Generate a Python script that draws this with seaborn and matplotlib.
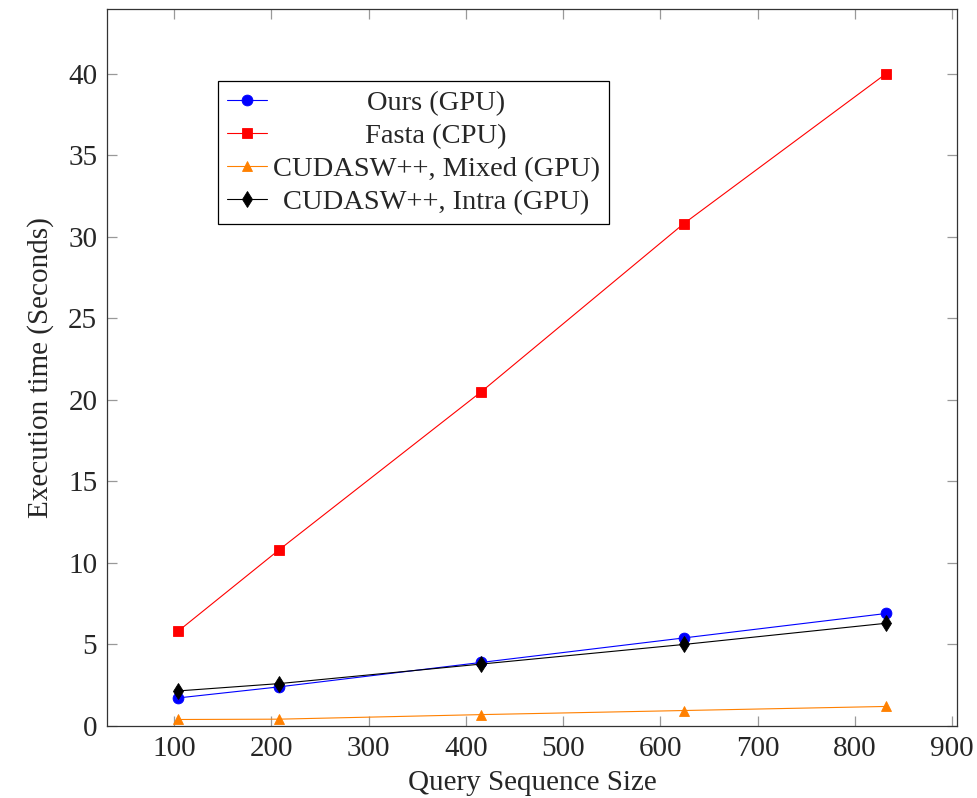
"""Execution time vs query sequence size (pgfplots-style line chart)."""
import matplotlib
matplotlib.use("Agg")
import matplotlib.pyplot as plt
import numpy as np
import pandas as pd
import seaborn as sns

# ---- data -------------------------------------------------------------
query_sizes = [104, 208, 416, 624, 832]
ours_gpu = [1.72, 2.40, 3.90, 5.40, 6.90]
fasta_cpu = [5.80, 10.80, 20.50, 30.80, 40.00]
cudasw_mixed = [0.40, 0.42, 0.70, 0.95, 1.20]
cudasw_intra = [2.15, 2.60, 3.80, 5.00, 6.30]

series_names = [
    "Ours (GPU)",
    "Fasta (CPU)",
    "CUDASW++, Mixed (GPU)",
    "CUDASW++, Intra (GPU)",
]
series_values = [ours_gpu, fasta_cpu, cudasw_mixed, cudasw_intra]

x_ticks = [100, 200, 300, 400, 500, 600, 700, 800, 900]
y_ticks = [0, 5, 10, 15, 20, 25, 30, 35, 40]

# ---- styling ------------------------------------------------------------
STYLE = {
    "Ours (GPU)":            dict(color="#0000ff", marker="o", ms=7.8),
    "Fasta (CPU)":           dict(color="#ff0000", marker="s", ms=7.6),
    "CUDASW++, Mixed (GPU)": dict(color="#ff8000", marker="^", ms=7.6),
    "CUDASW++, Intra (GPU)": dict(color="#000000", marker="d", ms=7.8),
}

sns.set_style("ticks")
plt.rcParams["font.family"] = ["Liberation Serif", "DejaVu Serif"]

df = pd.concat(
    [pd.DataFrame({"size": query_sizes, "time": vals, "series": name})
     for name, vals in zip(series_names, series_values)],
    ignore_index=True,
)

fig = plt.figure(figsize=(9.78, 7.98), dpi=100)
ax = fig.add_axes([0.1094, 0.0902, 0.8691, 0.8985])

for name in series_names:
    st = STYLE[name]
    sub = df[df["series"] == name]
    sns.lineplot(
        data=sub, x="size", y="time", ax=ax,
        color=st["color"], marker=st["marker"], markersize=st["ms"],
        markeredgecolor=st["color"], markeredgewidth=0.6,
        linewidth=0.8, label=name, legend=False,
    )

ax.set_xlim(31.2, 904.8)
ax.set_ylim(0, 43.96)
ax.set_xticks(x_ticks)
ax.set_yticks(y_ticks)

ax.tick_params(axis="both", which="major", direction="in", length=7,
               width=0.9, color="#999999", labelsize=21, pad=7,
               top=True, right=True)
for sp in ax.spines.values():
    sp.set_visible(True)
    sp.set_color("#333333")
    sp.set_linewidth(0.9)

ax.set_xlabel("Query Sequence Size", fontsize=21, labelpad=6)
ax.set_ylabel("Execution time (Seconds)", fontsize=21, labelpad=10)

leg = ax.legend(
    loc="upper left", bbox_to_anchor=(0.1306, 0.8996), borderaxespad=0,
    fontsize=20.5, frameon=True, fancybox=False, framealpha=1,
    edgecolor="black", handlelength=1.4, handletextpad=0.2,
    labelspacing=0.25, borderpad=0.32,
)
leg.get_frame().set_linewidth(0.9)

# pgfplots centres legend entries; shift each label to the centre of the
# text column
fig.canvas.draw()
renderer = fig.canvas.get_renderer()
texts = leg.get_texts()
widths = [t.get_window_extent(renderer).width for t in texts]
max_w = max(widths)
for t, w in zip(texts, widths):
    t.set_x((max_w - w) / 2)

fig.savefig("out.png", dpi=100)
